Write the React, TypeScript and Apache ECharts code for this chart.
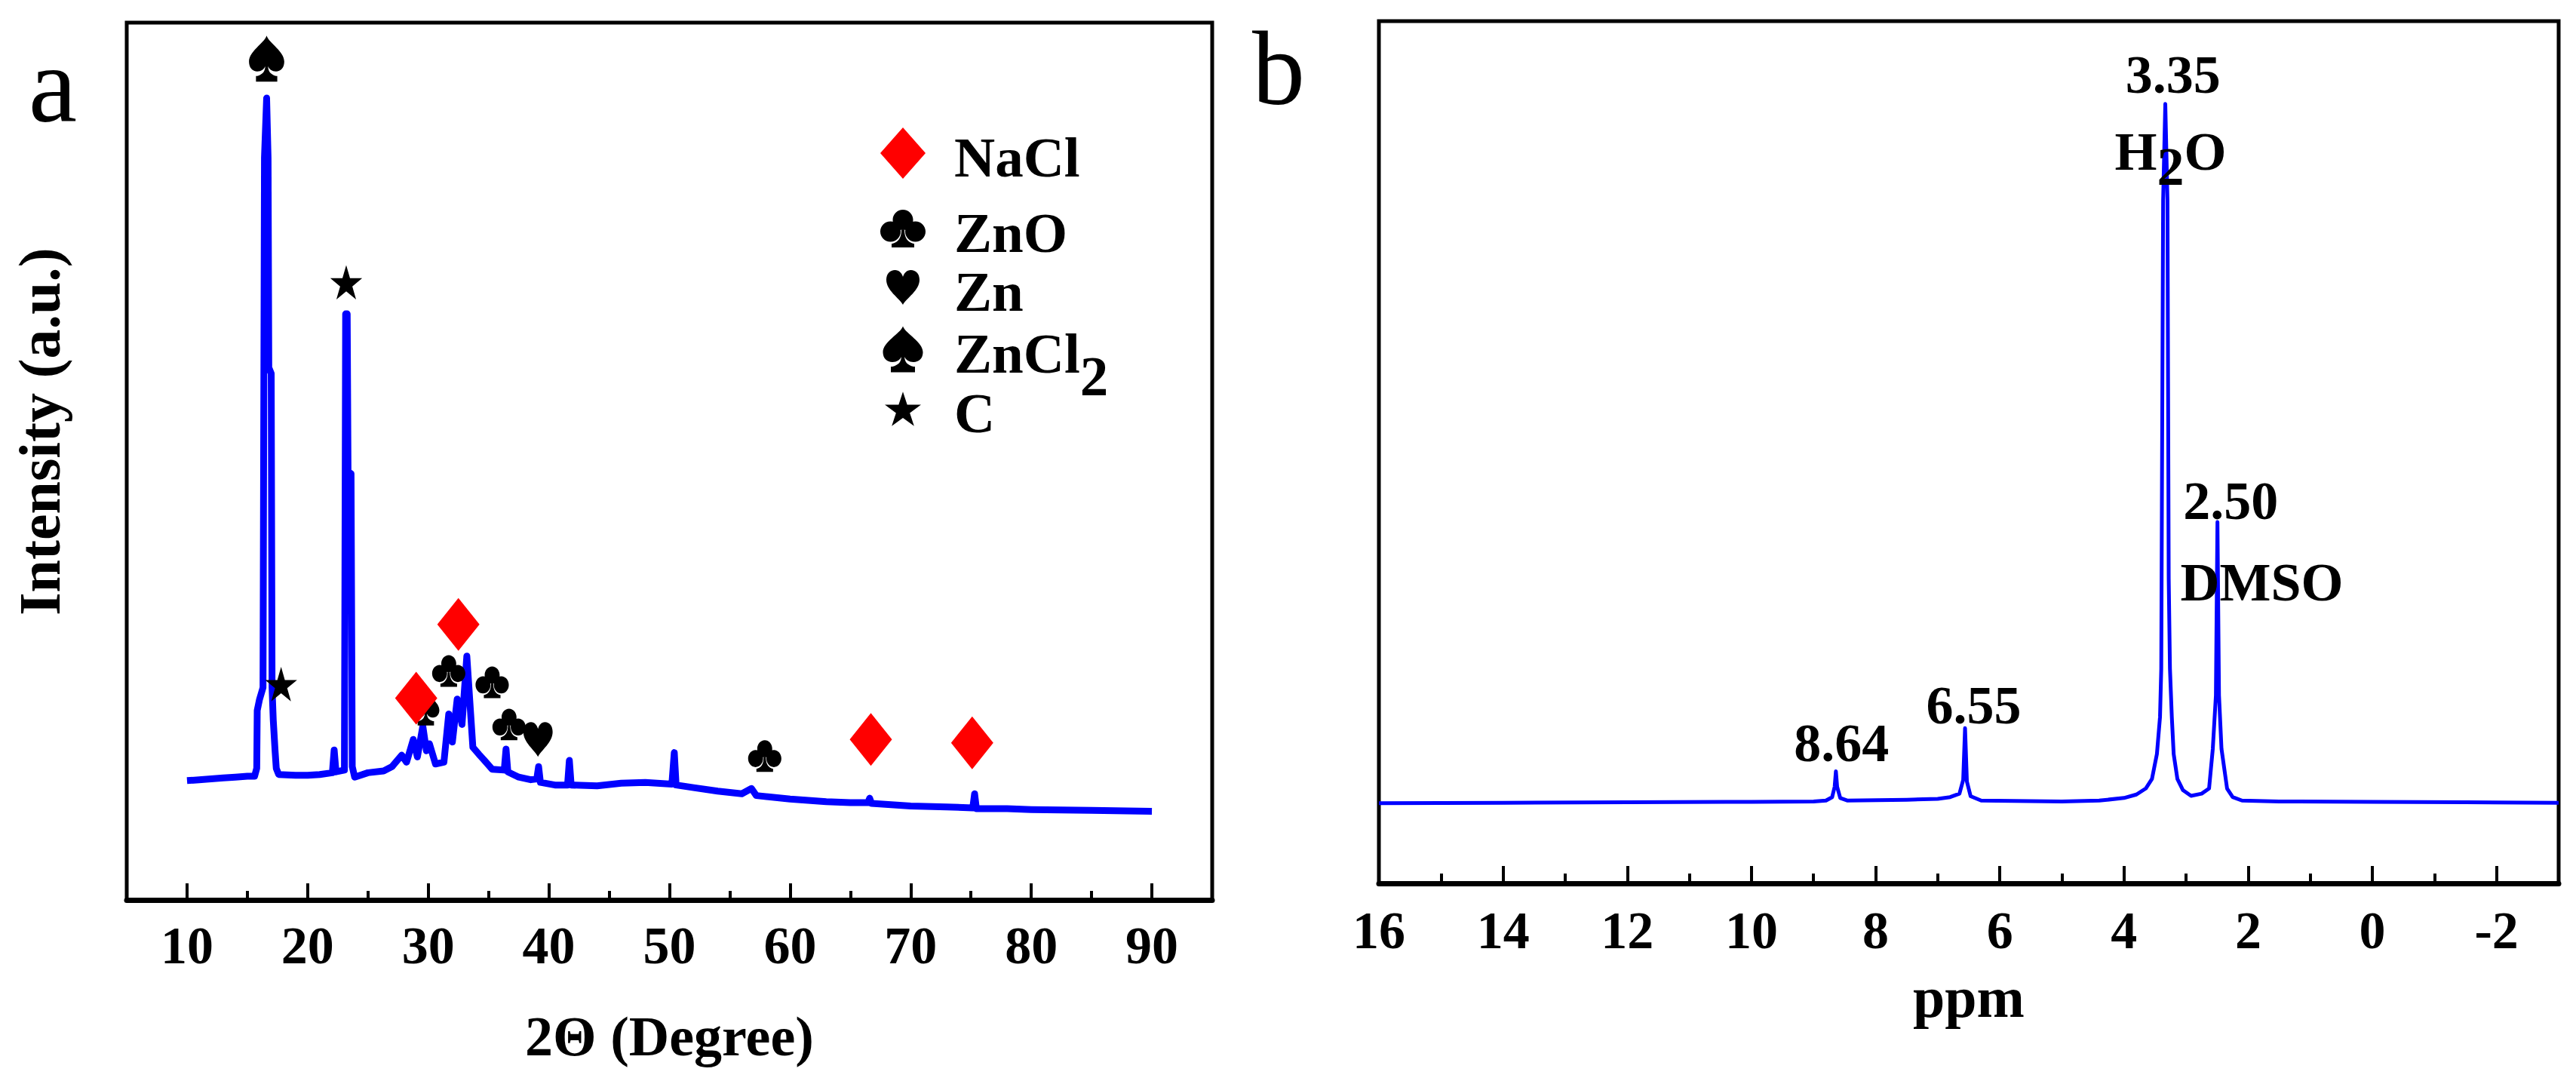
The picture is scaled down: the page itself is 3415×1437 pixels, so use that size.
import React, { useEffect, useRef } from 'react';
import * as echarts from 'echarts';

// ---------------- data ----------------
const xrdTicks = [10, 20, 30, 40, 50, 60, 70, 80, 90];
const xrdMinorTicks = [15, 25, 35, 45, 55, 65, 75, 85];
const nmrTicks = [16, 14, 12, 10, 8, 6, 4, 2, 0, -2];
const nmrMinorTicks = [15, 13, 11, 9, 7, 5, 3, 1, -1];

// XRD pattern: [2-theta (deg), intensity (a.u.)]
const xrdPattern: [number, number][] = [
  [10, 136], [11, 137], [12, 138], [13, 139], [14, 140], [15, 141], [15.6, 141],
  [15.78, 150], [15.82, 216], [16.0, 228], [16.3, 242], [16.42, 846], [16.6, 914],
  [16.72, 846], [16.78, 607], [16.98, 600], [17.05, 242], [17.15, 205], [17.3, 170],
  [17.4, 150], [17.6, 143], [19, 142], [20, 142], [21, 143], [22.05, 145], [22.2, 171],
  [22.35, 146], [23.05, 148], [23.15, 668], [23.28, 668], [23.35, 488], [23.6, 486],
  [23.7, 152], [23.9, 140], [25, 145], [26.3, 147], [27, 152], [27.8, 165], [28.2, 157],
  [28.76, 183], [29.1, 163], [29.55, 198], [29.85, 170], [30.1, 178], [30.6, 155],
  [31.3, 157], [31.7, 212], [32.0, 180], [32.4, 229], [32.8, 200], [33.2, 278],
  [33.7, 174], [34.2, 166], [34.6, 160], [35.3, 149], [36.3, 148], [36.45, 172],
  [36.6, 146], [37.5, 140], [38.5, 137], [39.0, 138], [39.15, 152], [39.3, 134],
  [40.5, 131], [41.55, 131], [41.7, 159], [41.85, 131], [44, 130], [46, 133], [48, 134],
  [50.2, 132], [50.4, 168], [50.55, 131], [52, 128], [54, 124], [56, 121], [56.8, 127],
  [57.2, 119], [60, 115], [63, 112], [65, 111], [66.45, 111], [66.6, 116], [66.75, 110],
  [70, 107], [73, 106], [75.15, 105], [75.3, 121], [75.45, 104], [78, 104], [80, 103],
  [85, 102], [90, 101],
];

// 1H NMR spectrum: [chemical shift (ppm), intensity]
const nmrSpectrum: [number, number][] = [
  [16, 93], [14, 93.5], [12, 94], [10, 94.5], [9, 95], [8.8, 96], [8.7, 100], [8.66, 112],
  [8.64, 130], [8.62, 112], [8.57, 99], [8.45, 96], [7.5, 97], [7.0, 98], [6.8, 100],
  [6.65, 104], [6.59, 120], [6.56, 180], [6.53, 118], [6.47, 101], [6.3, 96], [5.0, 95],
  [4.4, 96], [4.0, 99], [3.8, 103], [3.65, 110], [3.55, 121], [3.47, 150], [3.42, 193],
  [3.4, 249], [3.39, 437], [3.37, 792], [3.335, 904], [3.3, 792], [3.28, 354], [3.26, 249],
  [3.23, 193], [3.2, 150], [3.14, 121], [3.05, 108], [2.92, 101.5], [2.75, 104], [2.63, 110],
  [2.57, 156], [2.52, 218], [2.495, 419], [2.47, 218], [2.43, 156], [2.34, 110], [2.25, 100],
  [2.1, 96], [1.5, 95], [0, 94.5], [-1.5, 94], [-3, 93.5],
];

// phase markers on the XRD pattern: [2-theta, intensity]
const naclMarks: [number, number][] = [[29.0, 230], [32.5, 314], [66.7, 183], [75.1, 179]];
const znoMarks: [number, number][] = [[31.7, 261], [35.3, 248], [36.7, 200], [57.9, 164]];
const znMarks: [number, number][] = [[39.1, 183]];
const zncl2Marks: [number, number][] = [[16.6, 959], [29.8, 219]];
const carbonMarks: [number, number][] = [[23.2, 704], [17.8, 246]];

const phaseNames = ['NaCl', 'ZnO', 'Zn', 'ZnCl2', 'C'];

// NMR peak annotations: text and [ppm, intensity] of the text centre
const nmrLabelTexts = ['3.35', 'H2O', '2.50', 'DMSO', '8.64', '6.55'];
const nmrLabelPos: [number, number][] = [
  [3.21, 941], [3.25, 852], [2.28, 447], [1.78, 353], [8.55, 166], [6.42, 210],
];

// ---------------- glyphs & layout ----------------
const SERIF = "'Liberation Serif', 'Times New Roman', serif";
const K = 0.5523;
function circ(cx: number, cy: number, r: number): string {
  const k = r * K;
  return `M${cx - r} ${cy} C${cx - r} ${cy - k} ${cx - k} ${cy - r} ${cx} ${cy - r} ` +
    `C${cx + k} ${cy - r} ${cx + r} ${cy - k} ${cx + r} ${cy} ` +
    `C${cx + r} ${cy + k} ${cx + k} ${cy + r} ${cx} ${cy + r} ` +
    `C${cx - k} ${cy + r} ${cx - r} ${cy + k} ${cx - r} ${cy} Z `;
}
const FRAME = 'M0 0 M60 68 ';
const CLUB = 'path://' + FRAME + circ(30, 22.5, 13.5) + circ(13.5, 38, 13.5) + circ(46.5, 38, 13.5) +
  'M32 36 C32 46 36 52 44 54 L45 54 L45 59 L15 59 L15 54 L16 54 C24 52 28 46 28 36 Z';
const HEART = 'path://' + FRAME +
  'M30 57 C25 48 8 38 8 24 C8 16 13 11 19.5 11 C25 11 28.5 15 30 20 C31.5 15 35 11 40.5 11 C47 11 52 16 52 24 C52 38 35 48 30 57 Z';
const SPADE = 'path://' + FRAME +
  'M30 3.5 C26 14 3.5 24 3.5 38 C3.5 46 9 51 16 51 C22 51 26 48 28 44 C27.5 51 24 55 16 57 L14 57 L14 64.5 L46 64.5 L46 57 L44 57 C36 55 32.5 51 32 44 C34 48 38 51 44 51 C51 51 56.5 46 56.5 38 C56.5 24 34 14 30 3.5 Z';
const STAR = 'path://' + FRAME +
  'M30 11.2 L35.66 28.61 L53.97 28.61 L39.16 39.38 L44.81 56.79 L30 46.03 L15.19 56.79 L20.84 39.38 L6.03 28.61 L24.34 28.61 Z';

const phaseIcons: Record<string, string> = {
  NaCl: 'diamond', ZnO: CLUB, Zn: HEART, ZnCl2: SPADE, C: STAR,
};
// top edge (px) of each legend row's box
const legendRowTop: Record<string, number> = {
  NaCl: 169, ZnO: 269, Zn: 347, ZnCl2: 429, C: 508,
};

function buildOption(): echarts.EChartsOption {
  const bold = { fontFamily: SERIF, fontWeight: 'bold' as const, color: '#000' };
  const tok = { fontFamily: SERIF, fontWeight: 'bold' as const, color: '#000' };

  const markerSeries = (name: string, data: [number, number][], symbol: string, size: any, color: string, z: number) => ({
    type: 'scatter' as const,
    name,
    xAxisIndex: 0,
    yAxisIndex: 0,
    data,
    symbol,
    symbolSize: size,
    symbolKeepAspect: true,
    itemStyle: { color, opacity: 1 },
    silent: true,
    z,
  });

  const legendFor = (n: string) => ({
    orient: 'vertical' as const, left: 1167, top: legendRowTop[n], padding: 0,
    itemWidth: 60, itemHeight: 68, selectedMode: false,
    data: [{ name: n, icon: phaseIcons[n] }],
    formatter: (name: string) => (name === 'ZnCl2' ? '{n|ZnCl}{s|2}' : `{n|${name}}`),
    textStyle: {
      color: '#000', fontSize: 75, fontWeight: 'bold', fontFamily: SERIF,
      padding: [0, 0, 0, 33], height: 64, lineHeight: 64,
      rich: {
        n: { ...tok, fontSize: 75, lineHeight: 64, verticalAlign: 'top' },
        s: { ...tok, fontSize: 75, lineHeight: 64, verticalAlign: 'top', padding: [30, 0, 0, 0] },
      },
    } as any,
  });

  return {
    animation: false,
    backgroundColor: '#fff',
    grid: [
      { left: 168, top: 30, width: 1439, height: 1163, show: true, borderColor: '#000', borderWidth: 5, containLabel: false },
      { left: 1828, top: 28, width: 1564, height: 1143, show: true, borderColor: '#000', borderWidth: 5, containLabel: false },
    ],
    xAxis: [
      {
        gridIndex: 0, type: 'value', min: 5, max: 95, position: 'bottom',
        axisLine: { show: true, onZero: false, lineStyle: { color: '#000', width: 7 } },
        axisTick: { show: true, inside: true, length: 22, lineStyle: { color: '#000', width: 4 }, customValues: xrdTicks } as any,
        axisLabel: { show: true, customValues: xrdTicks, margin: 25, fontSize: 70, ...bold } as any,
        splitLine: { show: false },
        name: '2Θ (Degree)', nameLocation: 'middle', nameGap: 144,
        nameTextStyle: { fontSize: 74, ...bold },
      },
      {
        gridIndex: 0, type: 'value', min: 5, max: 95, position: 'bottom',
        axisLine: { show: false },
        axisTick: { show: true, inside: true, length: 12, lineStyle: { color: '#000', width: 4 }, customValues: xrdMinorTicks } as any,
        axisLabel: { show: false },
        splitLine: { show: false },
      },
      {
        gridIndex: 1, type: 'value', min: -3, max: 16, inverse: true, position: 'bottom',
        axisLine: { show: true, onZero: false, lineStyle: { color: '#000', width: 7 } },
        axisTick: { show: true, inside: true, length: 23, lineStyle: { color: '#000', width: 4 }, customValues: nmrTicks } as any,
        axisLabel: { show: true, customValues: nmrTicks, margin: 27, fontSize: 70, ...bold } as any,
        splitLine: { show: false },
        name: 'ppm', nameLocation: 'middle', nameGap: 113,
        nameTextStyle: { fontSize: 76, ...bold },
      },
      {
        gridIndex: 1, type: 'value', min: -3, max: 16, inverse: true, position: 'bottom',
        axisLine: { show: false },
        axisTick: { show: true, inside: true, length: 13, lineStyle: { color: '#000', width: 4 }, customValues: nmrMinorTicks } as any,
        axisLabel: { show: false },
        splitLine: { show: false },
      },
    ],
    yAxis: [
      { gridIndex: 0, type: 'value', min: 0, max: 1000, axisLine: { show: false }, axisTick: { show: false }, axisLabel: { show: false }, splitLine: { show: false } },
      { gridIndex: 1, type: 'value', min: 0, max: 1000, axisLine: { show: false }, axisTick: { show: false }, axisLabel: { show: false }, splitLine: { show: false } },
    ],
    legend: phaseNames.map(legendFor),
    graphic: [
      { type: 'text', x: 70, y: 112, silent: true, style: { text: 'a', fontSize: 145, fontFamily: SERIF, fill: '#000', align: 'center', verticalAlign: 'middle' } },
      { type: 'text', x: 1695, y: 90, silent: true, style: { text: 'b', fontSize: 140, fontFamily: SERIF, fill: '#000', align: 'center', verticalAlign: 'middle' } },
      { type: 'text', x: 52, y: 572, rotation: Math.PI / 2, silent: true, style: { text: 'Intensity (a.u.)', fontSize: 78, fontWeight: 'bold', fontFamily: SERIF, fill: '#000', align: 'center', verticalAlign: 'middle' } },
    ],
    series: [
      {
        type: 'line', name: 'XRD', xAxisIndex: 0, yAxisIndex: 0, data: xrdPattern,
        showSymbol: false, symbol: 'none', silent: true, z: 2,
        lineStyle: { color: '#0000ff', width: 9, join: 'round' } as any,
        itemStyle: { color: '#0000ff' },
      },
      markerSeries('ZnO', znoMarks, CLUB, [50, 57], '#000', 5),
      markerSeries('Zn', znMarks, HEART, [60, 68], '#000', 5),
      {
        ...markerSeries('ZnCl2', zncl2Marks, SPADE, [60, 68], '#000', 5),
        symbolSize: (_v: any, p: any) => (p.dataIndex === 1 ? [46, 52] : [60, 68]),
      },
      markerSeries('C', carbonMarks, STAR, [60, 68], '#000', 5),
      markerSeries('NaCl', naclMarks, 'diamond', [56, 70], '#ff0000', 6),
      {
        type: 'line', name: 'NMR', xAxisIndex: 2, yAxisIndex: 1, data: nmrSpectrum,
        showSymbol: false, symbol: 'none', silent: true, z: 2,
        lineStyle: { color: '#0000ff', width: 5, join: 'round' } as any,
        itemStyle: { color: '#0000ff' },
      },
      {
        type: 'scatter', name: 'NMR labels', xAxisIndex: 2, yAxisIndex: 1, silent: true, z: 7,
        data: nmrLabelTexts.map((t, i) => ({ name: t, value: nmrLabelPos[i] })),
        symbol: 'circle', symbolSize: 1, itemStyle: { color: 'rgba(0,0,0,0)', opacity: 1 },
        label: {
          show: true, position: 'inside', color: '#000', opacity: 1, textBorderWidth: 0, textBorderColor: 'transparent',
          fontSize: 72, fontWeight: 'bold', fontFamily: SERIF, height: 64,
          formatter: (p: any) => (p.name === 'H2O' ? '{n|H}{s|2}{n|O}' : `{n|${p.name}}`),
          rich: {
            n: { ...tok, fontSize: 72, lineHeight: 64, verticalAlign: 'top', textBorderWidth: 0 },
            s: { ...tok, fontSize: 72, lineHeight: 64, verticalAlign: 'top', padding: [20, 0, 0, 0], textBorderWidth: 0 },
          },
        } as any,
      },
    ],
  } as any;
}

export default function App() {
  const ref = useRef<HTMLDivElement>(null);
  useEffect(() => {
    if (!ref.current) return;
    const chart = echarts.init(ref.current, undefined, { renderer: 'svg' });
    chart.setOption(buildOption());
    return () => chart.dispose();
  }, []);
  return (
    <div
      ref={ref}
      style={{ position: 'absolute', left: 0, top: 0, width: '3415px', height: '1437px', background: '#fff' }}
    />
  );
}
